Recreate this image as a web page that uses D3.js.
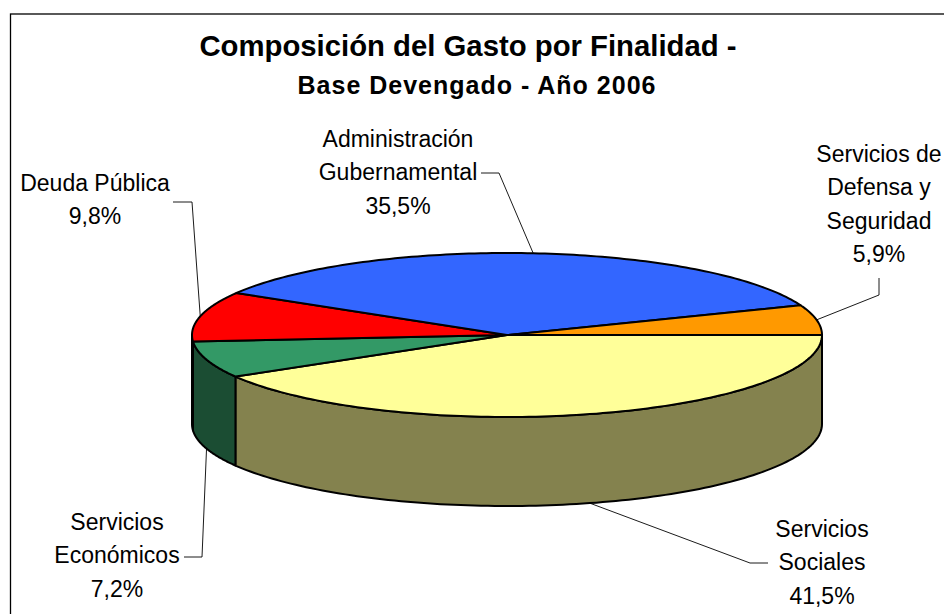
<!DOCTYPE html>
<html>
<head>
<meta charset="utf-8">
<script src="https://cdn.jsdelivr.net/npm/d3@7"></script>
<style>
html, body { margin: 0; padding: 0; background: #fff; overflow: hidden; }
svg { display: block; }
text { font-family: "Liberation Sans", Arial, sans-serif; fill: #000; }
</style>
</head>
<body>
<div id="graph"></div>
<script>
// data
var categories = ["Servicios Sociales", "Servicios Económicos", "Deuda Pública", "Administración Gubernamental", "Servicios de Defensa y Seguridad"];
var shares = [41.5, 7.2, 9.8, 35.5, 5.9];
var shareLabels = ["41,5%", "7,2%", "9,8%", "35,5%", "5,9%"];
var topColors = ["#FFFF99", "#339966", "#FF0000", "#3366FF", "#FF9900"];
var sideColors = ["#84824E", "#1B4D33", "#800000", "#1A3380", "#804D00"];

var titleLine1 = "Composición del Gasto por Finalidad -";
var titleLine2 = "Base Devengado - Año 2006";

// label placement, same order as categories
var labelLines = [
    ["Servicios", "Sociales"],
    ["Servicios", "Económicos"],
    ["Deuda Pública"],
    ["Administración", "Gubernamental"],
    ["Servicios de", "Defensa y", "Seguridad"]
];
var labelPos = [
    { x: 822, y: 537 },
    { x: 117, y: 530 },
    { x: 95, y: 191 },
    { x: 398, y: 147 },
    { x: 879, y: 162 }
];
// elbow of each leader line
var leaderPath = [
    [[750, 563], [768, 563]],
    [[202, 557], [184, 557]],
    [[192, 202], [173, 202]],
    [[499, 173], [481, 173]],
    [[879, 295], [879, 278]]
];
var leaderOnSide = [true, true, false, false, false];

var width = 944, height = 614;
var cx = 507, cy = 335, rx = 315, ry = 82, depth = 89;

var svg = d3.select("#graph").append("svg").attr("width", width).attr("height", height);

svg.append("rect").attr("x", 10.5).attr("y", 14).attr("width", 950).attr("height", 620)
    .attr("fill", "#fff").attr("stroke", "#000").attr("stroke-width", 1.3);

var xScale = d3.scaleLinear().domain([-1, 1]).range([cx - rx, cx + rx]);
var yScale = d3.scaleLinear().domain([-1, 1]).range([cy - ry, cy + ry]);

function rimX(a) { return xScale(Math.sin(a)); }
function rimY(a) { return yScale(-Math.cos(a)); }

var pie = d3.pie().sort(null).startAngle(Math.PI / 2).endAngle(Math.PI / 2 + 2 * Math.PI);
var arcs = pie(shares);

var line = d3.line().x(function (d) { return d[0]; }).y(function (d) { return d[1]; });

// points along the rim between two angles
function rimPoints(a0, a1, dy) {
    return d3.range(0, 121).map(function (i) {
        var a = a0 + (a1 - a0) * i / 120;
        return [rimX(a), rimY(a) + dy];
    });
}

// side wall: only the front half of the cylinder shows
var front0 = Math.PI / 2, front1 = 3 * Math.PI / 2;
arcs.forEach(function (d, i) {
    var a0 = Math.max(d.startAngle, front0), a1 = Math.min(d.endAngle, front1);
    if (a1 <= a0) return;
    var pts = rimPoints(a0, a1, 0).concat(rimPoints(a1, a0, depth));
    svg.append("path").attr("d", line(pts) + "Z")
        .attr("fill", sideColors[i]).attr("stroke", "#000").attr("stroke-width", 2).attr("stroke-linejoin", "round");
});

// top face
arcs.forEach(function (d, i) {
    var pts = [[cx, cy]].concat(rimPoints(d.startAngle, d.endAngle, 0));
    svg.append("path").attr("d", line(pts) + "Z")
        .attr("fill", topColors[i]).attr("stroke", "#000").attr("stroke-width", 2).attr("stroke-linejoin", "round");
});

// leader lines
arcs.forEach(function (d, i) {
    var mid = (d.startAngle + d.endAngle) / 2;
    var start = [rimX(mid), rimY(mid) + (leaderOnSide[i] ? depth : 0)];
    svg.append("path").attr("d", line([start].concat(leaderPath[i])))
        .attr("fill", "none").attr("stroke", "#000").attr("stroke-width", 0.9);
});

// labels
var lineStep = 33.3;
arcs.forEach(function (d, i) {
    var lines = labelLines[i].concat([shareLabels[i]]);
    lines.forEach(function (t, j) {
        svg.append("text").attr("x", labelPos[i].x).attr("y", labelPos[i].y + j * lineStep)
            .attr("text-anchor", "middle").attr("font-size", 23).text(t);
    });
});

svg.append("text").attr("x", 468).attr("y", 56).attr("text-anchor", "middle")
    .attr("font-size", 29.3).attr("font-weight", "bold").text(titleLine1);
svg.append("text").attr("x", 477).attr("y", 94).attr("text-anchor", "middle")
    .attr("font-size", 25).attr("letter-spacing", 1).attr("font-weight", "bold").text(titleLine2);
</script>
</body>
</html>
